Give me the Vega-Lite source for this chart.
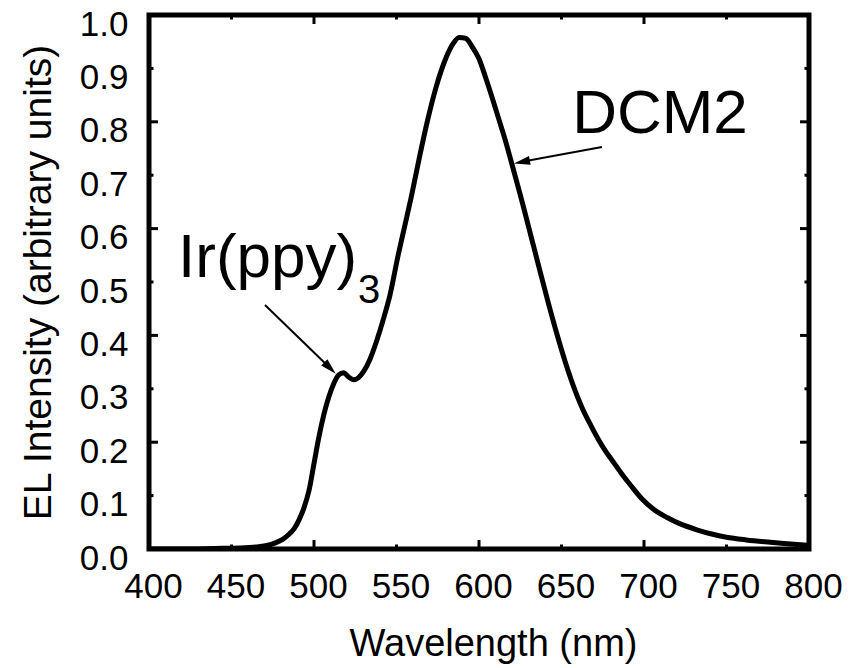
{
  "$schema": "https://vega.github.io/schema/vega-lite/v6.json",
  "width": 660,
  "height": 534,
  "autosize": "none",
  "padding": {"left": 149, "top": 15, "right": 45, "bottom": 119},
  "background": "white",
  "config": {
    "view": {"stroke": "black", "strokeWidth": 5},
    "font": "Liberation Sans",
    "axis": {"grid": false, "domain": false, "ticks": false, "tickSize": 0, "labelColor": "black", "titleColor": "black", "labelFont": "Liberation Sans", "titleFont": "Liberation Sans", "titleFontWeight": "normal", "labelOverlap": false, "labelBound": false, "labelFlush": false},
    "tick": {"color": "black", "opacity": 1, "thickness": 3}
  },
  "datasets": {
    "curve": [
      {"wl": 400, "v": 0.0}, {"wl": 420, "v": 0.0}, {"wl": 440, "v": 0.001}, {"wl": 455, "v": 0.002},
      {"wl": 465, "v": 0.004}, {"wl": 472, "v": 0.007}, {"wl": 477, "v": 0.012}, {"wl": 481, "v": 0.018},
      {"wl": 485, "v": 0.028}, {"wl": 488, "v": 0.038}, {"wl": 491, "v": 0.055}, {"wl": 494, "v": 0.078},
      {"wl": 497, "v": 0.11}, {"wl": 500, "v": 0.16}, {"wl": 503, "v": 0.21}, {"wl": 506, "v": 0.252},
      {"wl": 509, "v": 0.285}, {"wl": 512, "v": 0.31}, {"wl": 515, "v": 0.326}, {"wl": 518, "v": 0.33},
      {"wl": 521, "v": 0.322}, {"wl": 524, "v": 0.317}, {"wl": 527, "v": 0.321}, {"wl": 530, "v": 0.332},
      {"wl": 534, "v": 0.356}, {"wl": 538, "v": 0.39}, {"wl": 542, "v": 0.43}, {"wl": 546, "v": 0.475},
      {"wl": 551, "v": 0.55}, {"wl": 555, "v": 0.605}, {"wl": 559, "v": 0.66}, {"wl": 564, "v": 0.735},
      {"wl": 569, "v": 0.805}, {"wl": 574, "v": 0.865}, {"wl": 579, "v": 0.912}, {"wl": 584, "v": 0.945},
      {"wl": 588, "v": 0.958}, {"wl": 592, "v": 0.956}, {"wl": 596, "v": 0.94}, {"wl": 600, "v": 0.918},
      {"wl": 604, "v": 0.883}, {"wl": 608, "v": 0.845}, {"wl": 612, "v": 0.805}, {"wl": 616, "v": 0.765},
      {"wl": 620, "v": 0.72}, {"wl": 624, "v": 0.675}, {"wl": 627, "v": 0.64}, {"wl": 632, "v": 0.58},
      {"wl": 637, "v": 0.52}, {"wl": 642, "v": 0.461}, {"wl": 647, "v": 0.405}, {"wl": 652, "v": 0.353},
      {"wl": 657, "v": 0.307}, {"wl": 662, "v": 0.268}, {"wl": 667, "v": 0.236}, {"wl": 672, "v": 0.207},
      {"wl": 677, "v": 0.182}, {"wl": 680, "v": 0.169}, {"wl": 686, "v": 0.143}, {"wl": 692, "v": 0.119},
      {"wl": 699, "v": 0.093}, {"wl": 706, "v": 0.074}, {"wl": 714, "v": 0.059}, {"wl": 722, "v": 0.047},
      {"wl": 732, "v": 0.036}, {"wl": 741, "v": 0.028}, {"wl": 750, "v": 0.022}, {"wl": 762, "v": 0.017},
      {"wl": 775, "v": 0.013}, {"wl": 787, "v": 0.01}, {"wl": 799, "v": 0.007}
    ],
    "xticks": [
      {"wl": 400, "major": true}, {"wl": 450, "major": false}, {"wl": 500, "major": true}, {"wl": 550, "major": false},
      {"wl": 600, "major": true}, {"wl": 650, "major": false}, {"wl": 700, "major": true}, {"wl": 750, "major": false},
      {"wl": 800, "major": true}
    ],
    "yticks": [
      {"v": 0.0, "major": true}, {"v": 0.1, "major": false}, {"v": 0.2, "major": true}, {"v": 0.3, "major": false},
      {"v": 0.4, "major": true}, {"v": 0.5, "major": false}, {"v": 0.6, "major": true}, {"v": 0.7, "major": false},
      {"v": 0.8, "major": true}, {"v": 0.9, "major": false}, {"v": 1.0, "major": true}
    ],
    "arrows": [
      {"name": "Ir", "x1": 470.3, "y1": 0.457, "x2": 509.7, "y2": 0.339},
      {"name": "DCM2", "x1": 674.5, "y1": 0.753, "x2": 626.0, "y2": 0.725}
    ],
    "labels": [
      {"name": "DCM2", "text": "DCM2", "wl": 709.7, "v": 0.779},
      {"name": "Ir", "text": "Ir(ppy)", "wl": 417.6, "v": 0.509},
      {"name": "sub", "text": "3", "wl": 526.7, "v": 0.461}
    ]
  },
  "encoding": {
    "x": {"type": "quantitative", "scale": {"domain": [400, 800], "nice": false, "zero": false}},
    "y": {"type": "quantitative", "scale": {"domain": [0, 1], "nice": false, "zero": false}}
  },
  "layer": [
    {
      "data": {"name": "curve"},
      "mark": {"type": "line", "color": "black", "strokeWidth": 5, "interpolate": "monotone", "clip": true},
      "encoding": {
        "x": {"field": "wl", "type": "quantitative",
          "axis": {"orient": "bottom", "values": [400, 450, 500, 550, 600, 650, 700, 750, 800], "labelFontSize": 35, "labelPadding": 20, "labelOffset": 4,
            "title": "Wavelength (nm)", "titleFontSize": 38, "titleBaseline": "alphabetic", "titleX": 344, "titleY": 106}},
        "y": {"field": "v", "type": "quantitative",
          "axis": {"orient": "left", "values": [0, 0.1, 0.2, 0.3, 0.4, 0.5, 0.6, 0.7, 0.8, 0.9, 1.0], "format": ".1f", "labelFontSize": 35, "labelPadding": 21, "labelOffset": 9,
            "title": "EL Intensity (arbitrary units)", "titleFontSize": 39, "titleBaseline": "alphabetic", "titleX": -99, "titleY": 267}}
      }
    },
    {
      "data": {"name": "xticks"},
      "transform": [{"filter": "datum.major"}],
      "mark": {"type": "tick", "orient": "vertical", "size": 18, "clip": true},
      "encoding": {"x": {"field": "wl", "type": "quantitative"}, "y": {"datum": 0}}
    },
    {
      "data": {"name": "xticks"},
      "transform": [{"filter": "!datum.major"}],
      "mark": {"type": "tick", "orient": "vertical", "size": 9, "clip": true},
      "encoding": {"x": {"field": "wl", "type": "quantitative"}, "y": {"datum": 0}}
    },
    {
      "data": {"name": "xticks"},
      "transform": [{"filter": "datum.major"}],
      "mark": {"type": "tick", "orient": "vertical", "size": 18, "clip": true},
      "encoding": {"x": {"field": "wl", "type": "quantitative"}, "y": {"datum": 1}}
    },
    {
      "data": {"name": "xticks"},
      "transform": [{"filter": "!datum.major"}],
      "mark": {"type": "tick", "orient": "vertical", "size": 9, "clip": true},
      "encoding": {"x": {"field": "wl", "type": "quantitative"}, "y": {"datum": 1}}
    },
    {
      "data": {"name": "yticks"},
      "transform": [{"filter": "datum.major"}],
      "mark": {"type": "tick", "orient": "horizontal", "size": 18, "clip": true},
      "encoding": {"y": {"field": "v", "type": "quantitative"}, "x": {"datum": 400}}
    },
    {
      "data": {"name": "yticks"},
      "transform": [{"filter": "!datum.major"}],
      "mark": {"type": "tick", "orient": "horizontal", "size": 9, "clip": true},
      "encoding": {"y": {"field": "v", "type": "quantitative"}, "x": {"datum": 400}}
    },
    {
      "data": {"name": "yticks"},
      "transform": [{"filter": "datum.major"}],
      "mark": {"type": "tick", "orient": "horizontal", "size": 18, "clip": true},
      "encoding": {"y": {"field": "v", "type": "quantitative"}, "x": {"datum": 800}}
    },
    {
      "data": {"name": "yticks"},
      "transform": [{"filter": "!datum.major"}],
      "mark": {"type": "tick", "orient": "horizontal", "size": 9, "clip": true},
      "encoding": {"y": {"field": "v", "type": "quantitative"}, "x": {"datum": 800}}
    },
    {
      "data": {"name": "arrows"},
      "mark": {"type": "rule", "color": "black", "strokeWidth": 2},
      "encoding": {
        "x": {"field": "x1", "type": "quantitative"},
        "y": {"field": "y1", "type": "quantitative"},
        "x2": {"field": "x2"},
        "y2": {"field": "y2"}
      }
    },
    {
      "data": {"name": "arrows"},
      "transform": [{"filter": "datum.name === 'Ir'"}],
      "mark": {"type": "point", "shape": "M0,-1L0.55,1L-0.55,1Z", "filled": true, "color": "black", "opacity": 1, "size": 260, "angle": 135},
      "encoding": {
        "x": {"field": "x2", "type": "quantitative"},
        "y": {"field": "y2", "type": "quantitative"}
      }
    },
    {
      "data": {"name": "arrows"},
      "transform": [{"filter": "datum.name === 'DCM2'"}],
      "mark": {"type": "point", "shape": "M0,-1L0.55,1L-0.55,1Z", "filled": true, "color": "black", "opacity": 1, "size": 260, "angle": 259},
      "encoding": {
        "x": {"field": "x2", "type": "quantitative"},
        "y": {"field": "y2", "type": "quantitative"}
      }
    },
    {
      "data": {"name": "labels"},
      "transform": [{"filter": "datum.name === 'DCM2'"}],
      "mark": {"type": "text", "font": "Liberation Sans", "fontSize": 62, "align": "center", "baseline": "alphabetic", "color": "black"},
      "encoding": {
        "x": {"field": "wl", "type": "quantitative"},
        "y": {"field": "v", "type": "quantitative"},
        "text": {"field": "text"}
      }
    },
    {
      "data": {"name": "labels"},
      "transform": [{"filter": "datum.name === 'Ir'"}],
      "mark": {"type": "text", "font": "Liberation Sans", "fontSize": 62, "align": "left", "baseline": "alphabetic", "color": "black"},
      "encoding": {
        "x": {"field": "wl", "type": "quantitative"},
        "y": {"field": "v", "type": "quantitative"},
        "text": {"field": "text"}
      }
    },
    {
      "data": {"name": "labels"},
      "transform": [{"filter": "datum.name === 'sub'"}],
      "mark": {"type": "text", "font": "Liberation Sans", "fontSize": 40, "align": "left", "baseline": "alphabetic", "color": "black"},
      "encoding": {
        "x": {"field": "wl", "type": "quantitative"},
        "y": {"field": "v", "type": "quantitative"},
        "text": {"field": "text"}
      }
    }
  ]
}
